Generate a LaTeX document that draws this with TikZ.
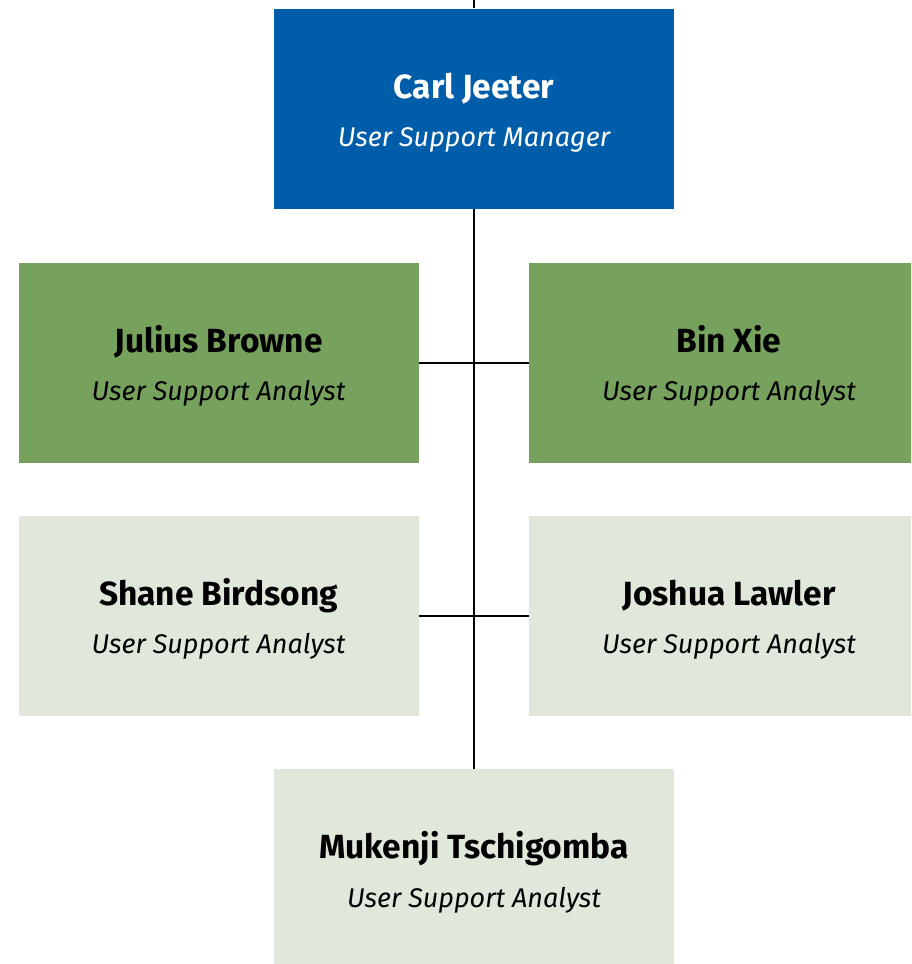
\documentclass[tikz,border=0pt]{standalone}
\usepackage{fontspec}
\setmainfont{Fira Sans}
\definecolor{mgrblue}{RGB}{0,93,170}
\definecolor{leadgreen}{RGB}{118,162,94}
\definecolor{staffgreen}{RGB}{224,232,220}
\newcommand{\person}[2]{\rule{0pt}{34pt}{\bfseries\fontsize{33.5}{48.5}\selectfont #1}\\{\itshape\fontsize{27}{48.5}\selectfont #2}\rule[-6pt]{0pt}{6pt}}
\begin{document}
\begin{tikzpicture}[x=1pt, y=-1pt,
    box/.style={rectangle, minimum width=400pt, minimum height=200pt, inner sep=0pt,
        align=center, font=\fontsize{27}{48.5}\selectfont},
    mgrbox/.style={box, fill=mgrblue, text=white},
    leadbox/.style={box, fill=leadgreen, text=black},
    staffbox/.style={box, fill=staffgreen, text=black},
    link/.style={draw=black, line width=2pt}]
    %--------------------%
    % Parameters
    %--------------------%
    \def\midx{474}
    \def\leftx{218.5}
    \def\rightx{729}

    \useasboundingbox (0,0) rectangle (911,964);
    \clip (0,0) rectangle (911,964);

    %--------------------%
    % Boxes
    %--------------------%
    \node[mgrbox] (carl) at (\midx,108.5) {\person{Carl Jeeter}{User Support Manager}};
    \node[leadbox] (julius) at (\leftx,362.5) {\person{Julius Browne}{User Support Analyst}};
    \node[leadbox] (bin) at (\rightx,362.5) {\person{Bin Xie}{User Support Analyst}};
    \node[staffbox] (shane) at (\leftx,615.5) {\person{Shane Birdsong}{User Support Analyst}};
    \node[staffbox] (joshua) at (\rightx,615.5) {\person{Joshua Lawler}{User Support Analyst}};
    \node[staffbox] (mukenji) at (\midx,869) {\person{Mukenji Tschigomba}{User Support Analyst}};

    %--------------------%
    % Connections
    %--------------------%
    \coordinate (top) at (\midx,0);
    \draw[link] (top) -- (carl.north);
    \draw[link] (carl.south) -- (mukenji.north);
    \draw[link] (julius.east) -- (bin.west);
    \draw[link] (shane.east) -- (joshua.west);
\end{tikzpicture}
\end{document}
